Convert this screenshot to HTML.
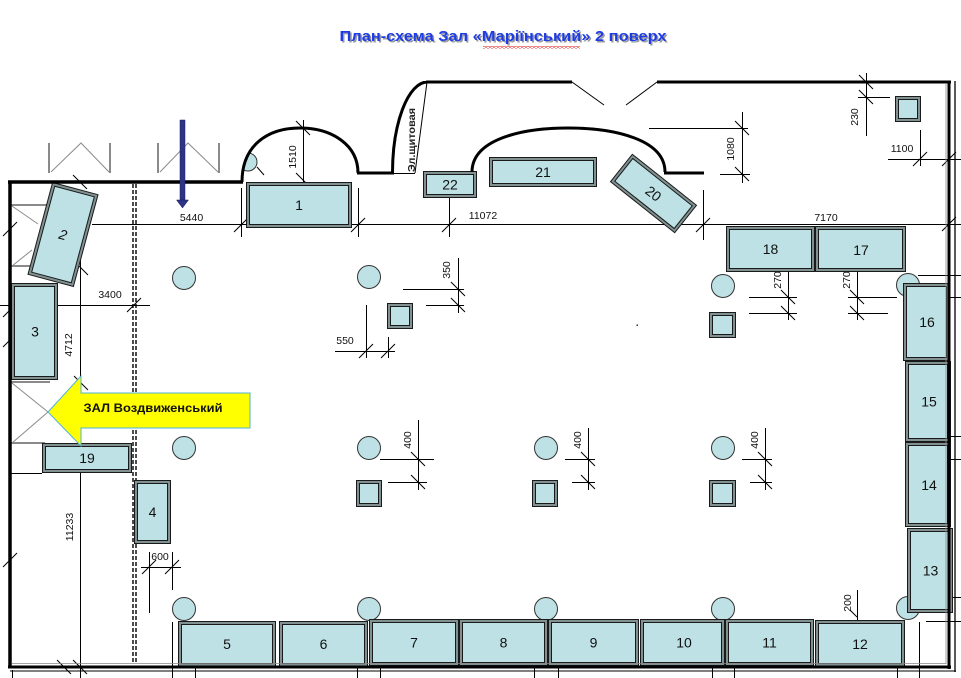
<!DOCTYPE html>
<html><head><meta charset="utf-8"><style>
html,body{margin:0;padding:0;background:#fff;width:961px;height:678px;overflow:hidden}
svg{display:block}
text{font-family:"Liberation Sans",Arial,sans-serif}
</style></head><body>
<svg width="961" height="678" viewBox="0 0 961 678" xmlns="http://www.w3.org/2000/svg">
<defs>
<clipPath id="arch1"><path d="M242,181 C242,145 268,128 300,128 C332,128 358,145 358,173 L358,185 L242,185 Z"/></clipPath>
<pattern id="wave" x="0" y="0" width="4" height="3" patternUnits="userSpaceOnUse"><polyline points="0,0.5 2,2.5 4,0.5" fill="none" stroke="#e03030" stroke-width="0.8"/></pattern>
</defs>
<rect width="961" height="678" fill="#fff"/>

<text x="504.5" y="42.5" text-anchor="middle" font-size="15" font-weight="bold" fill="#9a9a9a" textLength="327" lengthAdjust="spacingAndGlyphs">План-схема Зал «Маріїнський» 2 поверх</text>
<text x="503" y="41" text-anchor="middle" font-size="15" font-weight="bold" fill="#1e3ce6" textLength="327" lengthAdjust="spacingAndGlyphs">План-схема Зал «Маріїнський» 2 поверх</text>
<rect x="483" y="46" width="97" height="3" fill="url(#wave)"/>

<path fill="none" stroke="#8a8a8a" stroke-width="2" d="M49 143V173M110 143V173M158 143V173M219 143V173M10 205H47M10 266H32M10 382H50M10 443H45"/>
<path fill="none" stroke="#8a8a8a" stroke-width="1" d="M51 172L81 143L109 172M160 172L188 143L218 172M12 206L38 224M12 266L32 250M12 383L48 412M12 443L48 412"/>

<path fill="none" stroke="#000" stroke-width="1" d="M92 224.5H961M241.5 188V237M358.5 188V237M449.5 198V237M703.5 190V240M303.5 120V183M649 128.5H748M720 174.5H750M742.5 112V183M866.5 73V136M858 97.5H890M888 159.5H961M920.5 130V166M0 305.5H150M80.5 258V678M458.5 258V313M403 289.5H464M426 305.5H464M335 351.5H395M366.5 305V358M388.5 337V358M418.5 420V490M380 459.5H434M388 482.5H427M588.5 428V490M565 459.5H595M572 482.5H595M765.5 428V490M742 459.5H772M750 482.5H772M788.5 272V320M749 297.5H797M749 313.5H797M857.5 272V320M848 297.5H897M848 313.5H888M149.5 552V613M172.5 552V590M172.5 622V678M141 567.5H181M857.5 590V620M918 275.5H961M950 297.5H961M950 436.5H961M950 459.5H961M950 597.5H961M926 621.5H961M919.5 622V678M10 473.5H42M195.5 668V678M357.5 665V678M380.5 665V678M534.5 665V678M558.5 665V678M712.5 665V678M734.5 665V678M897.5 665V678M12.5 670V678"/>
<path fill="none" stroke="#000" stroke-width="1" d="M234 232l14-14M351 232l14-14M442 232l14-14M696 232l14-14M942 231l14-14M127 312l14-14M359 358l14-14M381 358l14-14M142 574l14-14M165 574l14-14M913 166l14-14M942 166l14-14M3 236l14-14M3 317l14-14M3 347l14-14M3 567l14-14M296 121l14 14M296 173l10 10M735 121l14 14M735 167l14 14M859 75l14 14M859 90l14 14M74 261l14 14M74 376l14 14M451 282l14 14M451 298l14 14M411 452l14 14M411 475l14 14M581 452l14 14M581 475l14 14M758 452l14 14M758 475l14 14M781 290l14 14M781 306l14 14M850 290l14 14M850 306l14 14M57 660l14 14M73 660l14 14M73 175l14 14M850 610l7 7M257 167l7 8"/>

<g font-size="10.5" fill="#111" text-anchor="middle">
<text x="191.5" y="221">5440</text>
<text x="483" y="219">11072</text>
<text x="826" y="221">7170</text>
<text x="110" y="298">3400</text>
<text x="345" y="344">550</text>
<text x="902" y="152">1100</text>
<text x="160" y="560">600</text>
<text transform="translate(292,157) rotate(-90)" y="4">1510</text>
<text transform="translate(730,149) rotate(-90)" y="4">1080</text>
<text transform="translate(854,117) rotate(-90)" y="4">230</text>
<text transform="translate(446,270) rotate(-90)" y="4">350</text>
<text transform="translate(68,345) rotate(-90)" y="4">4712</text>
<text transform="translate(69,527) rotate(-90)" y="4">11233</text>
<text transform="translate(407,440) rotate(-90)" y="4">400</text>
<text transform="translate(577,440) rotate(-90)" y="4">400</text>
<text transform="translate(754,440) rotate(-90)" y="4">400</text>
<text transform="translate(777,280) rotate(-90)" y="4">270</text>
<text transform="translate(846,280) rotate(-90)" y="4">270</text>
<text transform="translate(847,603) rotate(-90)" y="4">200</text>
</g>

<path fill="none" stroke="#000" stroke-width="1.4" stroke-dasharray="4 2" d="M133 184V662M136 184V662"/>

<g fill="#bde1e4" stroke="#333" stroke-width="1">
<circle cx="184" cy="278" r="11.5"/><circle cx="369" cy="277" r="11.5"/><circle cx="723" cy="286" r="11.5"/><circle cx="908" cy="285" r="11.5"/>
<circle cx="184" cy="448" r="11.5"/><circle cx="369" cy="448" r="11.5"/><circle cx="546" cy="448" r="11.5"/><circle cx="723" cy="448" r="11.5"/>
<circle cx="184" cy="609" r="11.5"/><circle cx="369" cy="609" r="11.5"/><circle cx="546" cy="609" r="11.5"/><circle cx="723" cy="609" r="11.5"/><circle cx="908" cy="608" r="11.5"/>
<circle cx="248" cy="162" r="9" clip-path="url(#arch1)"/>
</g>
<rect x="636.5" y="324.5" width="1.5" height="1.5" fill="#333"/>

<path stroke="#1a1a1a" stroke-width="1" fill="#819191" d="M246.5 182.5h105v45h-105zM423.5 171.5h53v26h-53zM489.5 157.5h107v29h-107zM726.5 226.5h88v45h-88zM815.5 226.5h90v45h-90zM11.5 283.5h46v96h-46zM42.5 443.5h89v29h-89zM134.5 480.5h36v63h-36zM178.5 621.5h97v45h-97zM279.5 621.5h88v45h-88zM369.5 619.5h89v46h-89zM459.5 619.5h88v46h-88zM548.5 619.5h90v46h-90zM640.5 619.5h84v46h-84zM725.5 619.5h88v46h-88zM815.5 620.5h89v46h-89zM903.5 283.5h46v77h-46zM905.5 361.5h45v80h-45zM905.5 442.5h45v84h-45zM907.5 528.5h45v84h-45zM387.5 303.5h25v25h-25zM709.5 312.5h26v25h-26zM356.5 480.5h25v26h-25zM532.5 480.5h25v26h-25zM709.5 480.5h26v26h-26zM895.5 96.5h25v25h-25z"/>
<path stroke="#1a1a1a" stroke-width="1" fill="#bde1e4" d="M249.5 185.5h99v39h-99zM426.5 174.5h47v20h-47zM492.5 160.5h101v23h-101zM729.5 229.5h82v39h-82zM818.5 229.5h84v39h-84zM14.5 286.5h40v90h-40zM45.5 446.5h83v23h-83zM137.5 483.5h30v57h-30zM181.5 624.5h91v39h-91zM282.5 624.5h82v39h-82zM372.5 622.5h83v40h-83zM462.5 622.5h82v40h-82zM551.5 622.5h84v40h-84zM643.5 622.5h78v40h-78zM728.5 622.5h82v40h-82zM818.5 623.5h83v40h-83zM906.5 286.5h40v71h-40zM908.5 364.5h39v74h-39zM908.5 445.5h39v78h-39zM910.5 531.5h39v78h-39zM390.5 306.5h19v19h-19zM712.5 315.5h20v19h-20zM359.5 483.5h19v20h-19zM535.5 483.5h19v20h-19zM712.5 483.5h20v20h-20zM898.5 99.5h19v19h-19z"/>
<g transform="translate(63,234.5) rotate(15)" stroke="#1a1a1a" stroke-width="1">
<rect x="-23.5" y="-47.5" width="47" height="95" fill="#819191"/>
<rect x="-20.5" y="-44.5" width="41" height="89" fill="#bde1e4"/>
<text x="0" y="5" font-size="14" font-style="italic" fill="#111" stroke="none" text-anchor="middle">2</text>
</g>
<g transform="translate(653.5,193.5) rotate(38.5)" stroke="#1a1a1a" stroke-width="1">
<rect x="-41" y="-17.5" width="82" height="35" fill="#819191"/>
<rect x="-38" y="-14.5" width="76" height="29" fill="#bde1e4"/>
<text x="0" y="5" font-size="14" fill="#111" stroke="none" text-anchor="middle">20</text>
</g>

<path fill="none" stroke="#000" stroke-width="3.5" d="M8 182H243M10 180.5V668"/>
<path fill="none" stroke="#000" stroke-width="3" d="M242,182 C242,145 268,128 300,128 C332,128 358,145 358,173M357 173H394M392.5,174 A35,91 0 0,1 427,82M426 82H572M657 82H951M472,172 C472,140 520,128 568,128 C616,128 665,140 665,172M664 173H704M949 81V669M8 667H951"/>
<path fill="none" stroke="#000" stroke-width="1" d="M572 82L604 105M657 82L626 105M427 82L415 173M393 173.5H415M10 671H956"/>
<path fill="none" stroke="#000" stroke-width="1.3" d="M955 81V672"/>
<path fill="none" stroke="#888" stroke-width="0.8" d="M946 84V664M12 663.5H946"/>

<text transform="translate(411,140) rotate(-90)" y="4" font-size="10.5" font-weight="bold" fill="#222" text-anchor="middle" textLength="64" lengthAdjust="spacingAndGlyphs">Эл.щитовая</text>

<path d="M180 120h5v80h-5zM176.5 200h12l-6 8z" fill="#2d3387" stroke="#1c1f5a" stroke-width="0.5"/>

<polygon points="48,412 81,376 81,393 250,393 250,428 81,428 81,446" fill="#ffff00" stroke="#4fb3d9" stroke-width="1"/>
<text x="153" y="412" text-anchor="middle" font-size="12" font-weight="bold" fill="#111" textLength="139" lengthAdjust="spacingAndGlyphs">ЗАЛ Воздвиженський</text>

<g font-size="14" fill="#111" text-anchor="middle">
<text x="299" y="210">1</text>
<text x="450" y="189.5">22</text>
<text x="543" y="177">21</text>
<text x="770.5" y="254">18</text>
<text x="861" y="255">17</text>
<text x="35" y="336.5">3</text>
<text x="87" y="463">19</text>
<text x="152.5" y="517">4</text>
<text x="227" y="649">5</text>
<text x="323.5" y="649">6</text>
<text x="414" y="647.5">7</text>
<text x="503.5" y="647.5">8</text>
<text x="593.5" y="647.5">9</text>
<text x="684" y="647.5">10</text>
<text x="769.5" y="647.5">11</text>
<text x="860" y="649">12</text>
<text x="927" y="327">16</text>
<text x="929" y="406.5">15</text>
<text x="929" y="490">14</text>
<text x="930.5" y="575.5">13</text>
</g>
</svg>
</body></html>
